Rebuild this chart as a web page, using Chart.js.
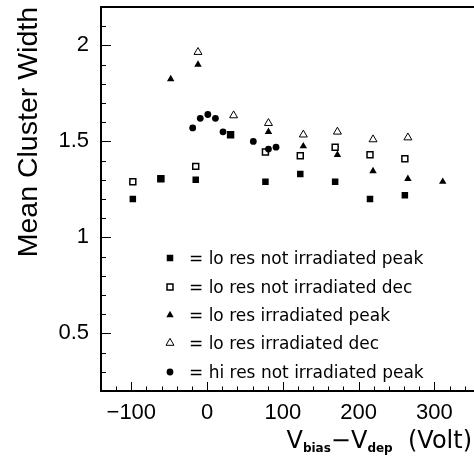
<!DOCTYPE html>
<html>
<head>
<meta charset="utf-8">
<script src="https://cdn.jsdelivr.net/npm/chart.js@4/dist/chart.umd.min.js"></script>
<style>
html, body { margin: 0; padding: 0; background: #fff; overflow: hidden; }
#wrap { width: 478px; height: 467px; }
</style>
</head>
<body>
<div id="wrap"><canvas id="myChart" width="478" height="467"></canvas></div>
<script>
// axis ticks
const xTicks = [-100, 0, 100, 200, 300];
const yTicks = [0.5, 1, 1.5, 2];

// lo res not irradiated peak (filled square)
const loPeakX = [-98, -61, -15, 31, 77, 123, 169, 215, 261];
const loPeakY = [1.20, 1.305, 1.30, 1.535, 1.29, 1.33, 1.29, 1.20, 1.22];
// lo res not irradiated dec (open square)
const loDecX = [-98, -61, -15, 31, 77, 123, 169, 215, 261];
const loDecY = [1.29, 1.305, 1.37, 1.535, 1.445, 1.425, 1.47, 1.43, 1.41];
// lo res irradiated peak (filled triangle)
const loIrrPeakX = [-48, -12, 81, 127, 172, 219, 265, 311];
const loIrrPeakY = [1.825, 1.90, 1.55, 1.475, 1.43, 1.345, 1.305, 1.29];
// lo res irradiated dec (open triangle)
const loIrrDecX = [-12, 35, 81, 127, 172, 219, 265];
const loIrrDecY = [1.965, 1.635, 1.595, 1.535, 1.55, 1.51, 1.52];
// hi res not irradiated peak (filled circle)
const hiPeakX = [-19, -9, 1, 11, 21, 61, 81, 91];
const hiPeakY = [1.57, 1.62, 1.64, 1.62, 1.55, 1.50, 1.46, 1.47];

const toPts = (xs, ys) => xs.map((x, i) => ({ x: x, y: ys[i] }));

const series = [
	{ label: '= lo res not irradiated peak', data: toPts(loPeakX, loPeakY), pointStyle: 'rect', pointRadius: 4.6, backgroundColor: '#000', borderColor: '#000', borderWidth: 0 },
	{ label: '= lo res not irradiated dec', data: toPts(loDecX, loDecY), pointStyle: 'rect', pointRadius: 4.2, backgroundColor: 'rgba(0,0,0,0)', borderColor: '#000', borderWidth: 1.5 },
	{ label: '= lo res irradiated peak', data: toPts(loIrrPeakX, loIrrPeakY), pointStyle: 'triangle', pointRadius: 4.3, backgroundColor: '#000', borderColor: '#000', borderWidth: 0 },
	{ label: '= lo res irradiated dec', data: toPts(loIrrDecX, loIrrDecY), pointStyle: 'triangle', pointRadius: 4.6, backgroundColor: 'rgba(0,0,0,0)', borderColor: '#000', borderWidth: 1 },
	{ label: '= hi res not irradiated peak', data: toPts(hiPeakX, hiPeakY), pointStyle: 'circle', pointRadius: 3.4, backgroundColor: '#000', borderColor: '#000', borderWidth: 0 },
];

// frame, inward ticks, legend and x title (with subscripts)
const decorations = {
	id: 'decorations',
	afterDraw(chart) {
		const ctx = chart.ctx;
		const a = chart.chartArea;
		const x = chart.scales.x, y = chart.scales.y;
		ctx.save();
		ctx.strokeStyle = '#000';
		ctx.lineWidth = 1;
		ctx.beginPath();
		for (let v = -140; v <= 340; v += 20) {
			const px = Math.round(x.getPixelForValue(v)) + 0.5;
			const len = v % 100 === 0 ? 9 : 4.5;
			ctx.moveTo(px, a.bottom);
			ctx.lineTo(px, a.bottom - len);
		}
		for (let i = 2; i <= 22; i++) {
			const py = Math.round(y.getPixelForValue(i / 10)) + 0.5;
			const len = i % 5 === 0 ? 10 : 5;
			ctx.moveTo(a.left, py);
			ctx.lineTo(a.left + len, py);
		}
		ctx.stroke();
		ctx.lineWidth = 2;
		ctx.strokeRect(a.left, a.top, a.right - a.left + 5, a.bottom - a.top);

		// legend
		const rows = [258, 287, 315, 343, 372];
		ctx.font = '17px "DejaVu Sans"';
		ctx.fillStyle = '#000';
		ctx.textBaseline = 'alphabetic';
		ctx.textAlign = 'left';
		series.forEach((s, i) => {
			ctx.fillStyle = s.backgroundColor;
			ctx.strokeStyle = s.borderColor;
			ctx.lineWidth = s.borderWidth;
			Chart.helpers.drawPoint(ctx, { pointStyle: s.pointStyle, radius: s.pointRadius, rotation: 0, borderWidth: s.borderWidth }, 170, rows[i]);
			ctx.fillStyle = '#000';
			ctx.fillText(s.label, 189, rows[i] + 6);
		});

		// x axis title
		const parts = [
			['V', '24px "DejaVu Sans"', 0],
			['bias', 'bold 12px "DejaVu Sans"', 4],
			['\u2212V', '24px "DejaVu Sans"', 0],
			['dep', 'bold 12px "DejaVu Sans"', 4],
			['  (Volt)', '24px "DejaVu Sans"', 0],
		];
		let total = 0;
		parts.forEach(p => { ctx.font = p[1]; total += ctx.measureText(p[0]).width; });
		let cx = 472 - total;
		parts.forEach(p => {
			ctx.font = p[1];
			ctx.fillText(p[0], cx, 448 + p[2]);
			cx += ctx.measureText(p[0]).width;
		});
		ctx.restore();
	}
};

document.addEventListener('DOMContentLoaded', function () {
	const chart1 = document.getElementById('myChart').getContext('2d');

	new Chart(chart1, {
		type: 'scatter',
		data: { datasets: series },
		options: {
			responsive: false,
			animation: false,
			layout: { padding: { top: 7, right: 0, bottom: 0, left: 0 } },
			plugins: { legend: { display: false }, tooltip: { enabled: false } },
			scales: {
				x: {
					type: 'linear',
					min: -140,
					max: 350,
					afterBuildTicks: s => { s.ticks = xTicks.map(v => ({ value: v })); },
					afterFit: s => { s.height = 76; s.paddingLeft = 0; s.paddingRight = 0; },
					grid: { display: false, drawTicks: false },
					border: { display: false },
					ticks: {
						color: '#000',
						padding: 9,
						font: { family: '"Liberation Sans"', size: 22 },
						callback: v => String(v).replace('-', '\u2212'),
					},
				},
				y: {
					type: 'linear',
					min: 0.2,
					max: 2.2,
					afterBuildTicks: s => { s.ticks = yTicks.map(v => ({ value: v })); },
					afterFit: s => { s.width = 101; s.paddingTop = 0; s.paddingBottom = 0; },
					grid: { display: false, drawTicks: false },
					border: { display: false },
					ticks: {
						color: '#000',
						padding: 12,
						font: { family: '"Liberation Sans"', size: 22 },
						callback: v => String(v),
					},
					title: {
						display: true,
						text: 'Mean Cluster Width',
						align: 'end',
						color: '#000',
						font: { family: '"Liberation Sans"', size: 28.5 },
						padding: { top: 12, bottom: 0 },
					},
				},
			},
		},
		plugins: [decorations],
	});
});
</script>
</body>
</html>
